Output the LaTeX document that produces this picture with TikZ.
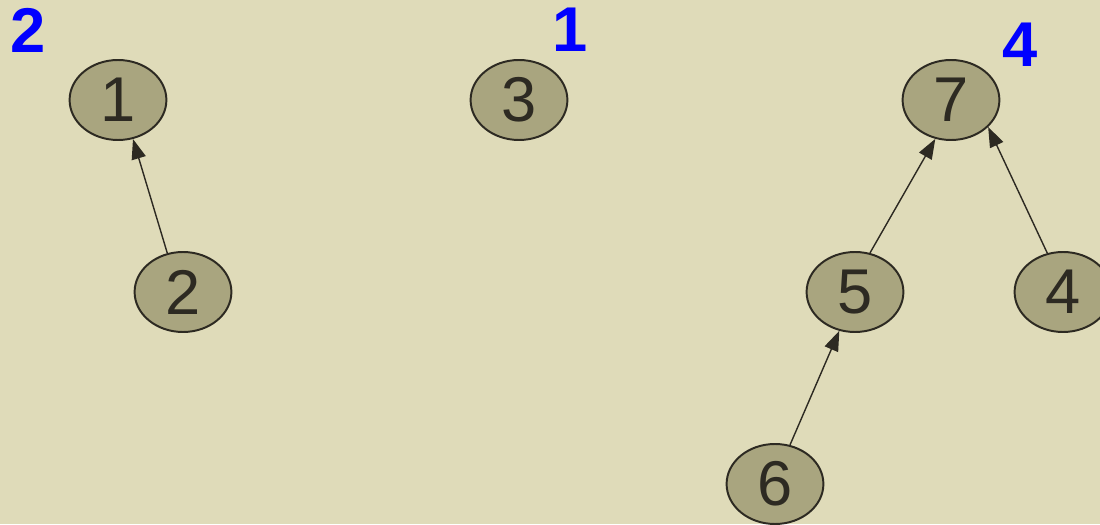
\documentclass[tikz,border=0pt]{standalone}
\usepackage{fontspec}
\setmainfont{Liberation Sans}
\usepackage{tikz}
\usetikzlibrary{shapes.geometric, arrows.meta, positioning}
\definecolor{paperbg}{RGB}{223, 219, 185}
\definecolor{nodefill}{RGB}{169, 165, 127}
\definecolor{inkdark}{RGB}{45, 42, 34}
\definecolor{rankblue}{RGB}{0, 0, 255}

\begin{document}
\begin{tikzpicture}[
    setnode/.style={ellipse, draw=inkdark, line width=1.4pt, fill=nodefill, text=inkdark, minimum width=2.42cm, minimum height=2cm, inner sep=0pt, font=\fontsize{45}{54}\selectfont},
    rank/.style={text=rankblue, font=\bfseries\fontsize{45}{54}\selectfont, inner sep=0pt},
    parent/.style={-{Triangle[length=5mm, width=3.6mm]}, line width=1pt, draw=inkdark}
]

% Background
\fill[paperbg] (0,0) rectangle (27.5,13.1);
\useasboundingbox (0,0) rectangle (27.5,13.1);

% Tree roots
\node[setnode] (n1) at (2.95,10.6) {1};
\node[setnode] (n3) at (12.975,10.6) {3};
\node[setnode] (n7) at (23.775,10.6) {7};

% Children
\node[setnode] (n2) at (4.575,5.8) {2};
\node[setnode] (n5) at (21.375,5.8) {5};
\node[setnode] (n4) at (26.575,5.8) {4};
\node[setnode] (n6) at (19.375,1.0) {6};

% Tree sizes
\node[rank] (r1) at (0.7,12.35) {2};
\node[rank] (r3) at (14.25,12.35) {1};
\node[rank] (r7) at (25.5,11.975) {4};

% Parent links
\draw[parent] (n2.112) -- (n1.-69);
\draw[parent] (n5.69) -- (n7.-112);
\draw[parent] (n4.112) -- (n7.-36);
\draw[parent] (n6.69) -- (n5.-112);

\end{tikzpicture}
\end{document}
